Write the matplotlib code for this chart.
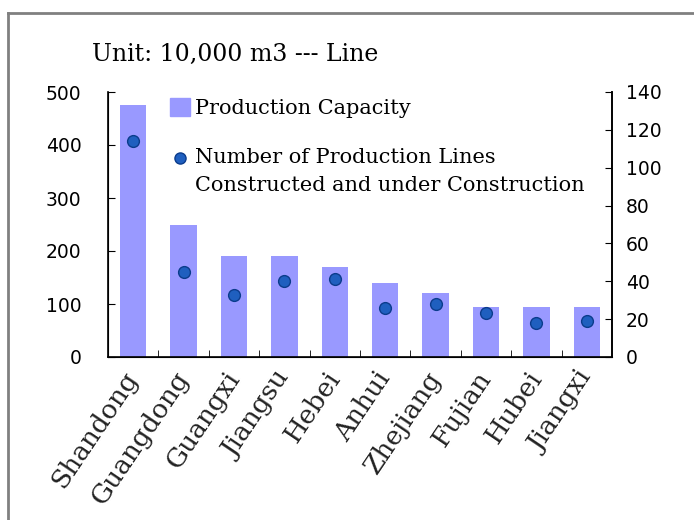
import matplotlib
matplotlib.use("Agg")
import matplotlib.pyplot as plt
from matplotlib.patches import Rectangle
from matplotlib.lines import Line2D
import numpy as np

provinces = ["Shandong", "Guangdong", "Guangxi", "Jiangsu", "Hebei", "Anhui",
             "Zhejiang", "Fujian", "Hubei", "Jiangxi"]
capacity = [475, 250, 190, 190, 170, 140, 120, 95, 95, 95]
lines = [114, 45, 33, 40, 41, 26, 28, 23, 18, 19]
left_ticks = [0, 100, 200, 300, 400, 500]
right_ticks = [0, 20, 40, 60, 80, 100, 120, 140]

plt.rcParams['font.family'] = ['DejaVu Serif']

W, H = 694, 520
fig = plt.figure(figsize=(W / 100, H / 100), dpi=100)
frame_col = '#808080'
fig.add_artist(Line2D([8 / W, 8 / W], [0, 1 - 13 / H], transform=fig.transFigure,
                      color=frame_col, linewidth=2))
fig.add_artist(Line2D([8 / W, 1], [1 - 13 / H, 1 - 13 / H], transform=fig.transFigure,
                      color=frame_col, linewidth=2))

ax = fig.add_axes([108 / W, 1 - 357 / H, 504 / W, 265 / H])
x = np.arange(len(provinces))
ax.bar(x, capacity, width=0.52, color='#9999FF', zorder=2)
ax.set_xlim(-0.5, len(provinces) - 0.5)
ax.set_ylim(0, 500)
ax.set_yticks(left_ticks)
ax.set_yticklabels([str(v) for v in left_ticks], family='DejaVu Sans')
ax.tick_params(axis='y', direction='in', labelsize=13.5, length=5, pad=19)
ax.set_xticks(x)
ax.set_xticklabels(provinces, rotation=56, ha='right', va='center', rotation_mode='anchor',
                   fontsize=19, color='#222222')
ax.tick_params(axis='x', length=0, pad=12)
ax.set_xticks(np.arange(0.5, len(provinces) - 0.5, 1), minor=True)
ax.tick_params(axis='x', which='minor', direction='in', length=5)
ax.spines['top'].set_visible(False)
for s in ['left', 'bottom', 'right']:
    ax.spines[s].set_linewidth(1.2)

ax2 = ax.twinx()
ax2.scatter(x, lines, s=72, color='#1F5FBF', edgecolor='#0B3C8C', linewidth=1, zorder=3)
ax2.set_ylim(0, 140)
ax2.set_yticks(right_ticks)
ax2.set_yticklabels([str(v) for v in right_ticks], family='DejaVu Sans')
ax2.tick_params(axis='y', direction='in', labelsize=13.5, length=5, pad=10)
ax2.spines['top'].set_visible(False)
ax2.spines['right'].set_linewidth(1.2)

handles = [Rectangle((0, 0), 1, 1, color='#9999FF'),
           Line2D([], [], marker='o', linestyle='none', markersize=8,
                  markerfacecolor='#1F5FBF', markeredgecolor='#0B3C8C')]
labels = ["Production Capacity",
          "Number of Production Lines\nConstructed and under Construction"]
leg = ax2.legend(handles, labels, loc='upper left', bbox_to_anchor=(160 / W, 1 - 88 / H),
                 bbox_transform=fig.transFigure, frameon=False, borderpad=0,
                 fontsize=15, handlelength=0.95, handleheight=0.9, handletextpad=0.25,
                 labelspacing=1.45)
for t in leg.get_texts():
    t.set_linespacing(1.6)
dot = leg.legend_handles[1]
dot.set_ydata(np.asarray(dot.get_ydata()) + 10)

fig.text(92 / W, 1 - 54 / H, "Unit: 10,000 m3 --- Line", fontsize=17, va='center')

fig.savefig("out.png", dpi=100)
